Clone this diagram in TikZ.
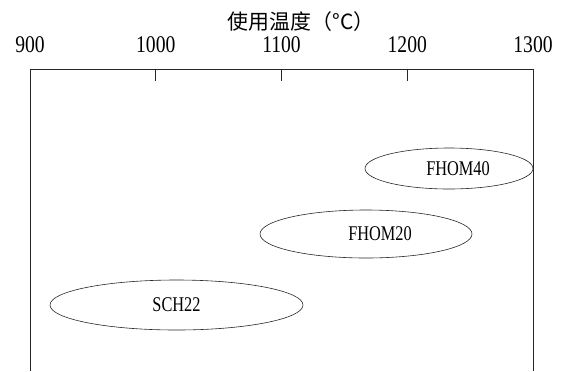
\documentclass[tikz,border=0pt]{standalone}
\usepackage{fontspec}
\usepackage{tikz}
\usetikzlibrary{shapes.geometric,positioning}
\newfontfamily\narrowserif[FakeStretch=0.82]{Liberation Serif}
\newfontfamily\labelserif[FakeStretch=0.78]{Liberation Serif}
\newfontfamily\cjk{Noto Sans CJK SC}

\begin{document}
\begin{tikzpicture}[x=1bp,y=-1bp,
    axis/.style={draw=black!85, line width=0.7pt},
    rangebox/.style={draw=black!85, line width=0.6pt, ellipse, inner sep=0pt,
        font=\labelserif\fontsize{21}{22}\selectfont},
    scalelbl/.style={font=\narrowserif\fontsize{24}{25}\selectfont}]
    \useasboundingbox (0,0) rectangle (570,371);

    % Title
    \node (title) at (301,22) {\cjk\fontsize{21}{23}\selectfont 使用温度（°C）};

    % Scale
    \foreach \t in {900,1000,...,1300}
        \node[scalelbl] (lbl\t) at ({30+(\t-900)*1.2575},45) {\t};
    \draw[axis] (30,371) -- (30,69) -- (533,69) -- (533,371);
    \foreach \t in {1000,1100,1200}
        \draw[axis] ({30+(\t-900)*1.2575},69) -- ++(0,12);

    % Ranges (text sits a little right of centre)
    \node[rangebox, minimum width=168bp, minimum height=41bp] (fhom40) at (449,168.5) {\hspace*{18bp}FHOM40};
    \node[rangebox, minimum width=212bp, minimum height=48bp] (fhom20) at (366,234) {\hspace*{28bp}FHOM20};
    \node[rangebox, minimum width=253bp, minimum height=50bp] (sch22) at (176.5,305) {SCH22};
\end{tikzpicture}
\end{document}
